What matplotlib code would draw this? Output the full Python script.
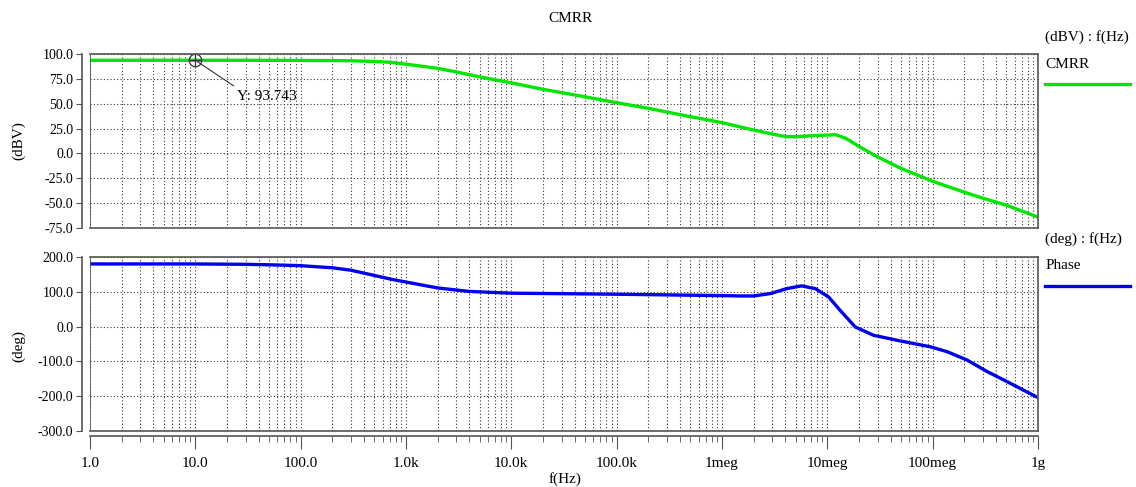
import numpy as np
import matplotlib.pyplot as plt
from matplotlib.ticker import FixedLocator, NullFormatter, NullLocator

plt.rcParams['font.family'] = ['Liberation Serif', 'DejaVu Serif']

# CMRR (dBV) vs frequency
f_cmrr = [1, 10, 100, 200, 300, 500, 700, 1e3, 2e3, 3e3, 5e3, 1e4, 2e4, 5e4, 1e5,
          2e5, 5e5, 1e6, 2e6, 3e6, 4e6, 5e6, 7e6, 1e7, 1.2e7, 1.5e7, 2e7, 3e7,
          5e7, 1e8, 2e8, 3e8, 5e8, 1e9]
cmrr = [93.7, 93.7, 93.6, 93.4, 93.2, 92.5, 91.7, 89.8, 85.6, 82.0, 77.0, 71.0,
        64.5, 57.0, 51.0, 45.4, 37.0, 31.0, 23.5, 19.5, 17.0, 16.8, 17.8, 18.5,
        18.8, 15.2, 7.0, -3.5, -15.0, -28.0, -39.0, -45.0, -52.0, -64.0]

# Phase (deg) vs frequency
f_phase = [1, 10, 30, 60, 100, 200, 300, 500, 700, 1e3, 2e3, 4e3, 1e4, 1e5, 1e6,
           1.5e6, 2e6, 2.9e6, 4.1e6, 5.7e6, 7.7e6, 1.03e7, 1.33e7, 1.84e7,
           2.75e7, 4.9e7, 9.5e7, 1.37e8, 2.12e8, 3.28e8, 5.08e8, 1e9]
phase = [180, 180, 179, 177, 175, 169, 162, 147, 137, 128, 111, 101, 96, 93, 89,
         88, 88, 95, 109, 117, 109, 85, 46, -1, -25, -41, -58, -72, -96, -129,
         -158, -204]

x_ticks = [1, 10, 100, 1e3, 1e4, 1e5, 1e6, 1e7, 1e8, 1e9]
x_labels = ['1.0', '10.0', '100.0', '1.0k', '10.0k', '100.0k', '1meg', '10meg', '100meg', '1g']
cmrr_ticks = [-75, -50, -25, 0, 25, 50, 75, 100]
phase_ticks = [-300, -200, -100, 0, 100, 200]

marker_f = 10
marker_y = 93.743

green = '#00e600'
blue = '#0000ee'
edge = '#555555'
gridc = '#3a3a3a'

fig = plt.figure(figsize=(11.36, 4.87), dpi=100)
L, W = 0.0792, 0.8345
ax1 = fig.add_axes([L, 0.5318, W, 0.3573])
ax2 = fig.add_axes([L, 0.1150, W, 0.3573])
ax3 = fig.add_axes([L, 0.1047, W, 0.0001])

minor = [m * 10 ** d for d in range(0, 9) for m in range(2, 10)]

for ax, yt in ((ax1, cmrr_ticks), (ax2, phase_ticks)):
    ax.set_xscale('log')
    ax.set_xlim(1, 1e9)
    ax.set_ylim(yt[0], yt[-1])
    ax.set_yticks(yt)
    ax.set_yticklabels(['%.1f' % v for v in yt], fontsize=11)
    ax.xaxis.set_major_locator(FixedLocator(x_ticks))
    ax.xaxis.set_minor_locator(FixedLocator(minor))
    ax.xaxis.set_major_formatter(NullFormatter())
    ax.xaxis.set_minor_formatter(NullFormatter())
    ax.tick_params(axis='x', which='both', length=0)
    ax.tick_params(axis='y', direction='out', length=4, color=edge, pad=2)
    ax.grid(True, which='both', axis='x', color=gridc, linestyle=(0, (1, 2)), lw=0.8)
    ax.grid(True, which='major', axis='y', color=gridc, linestyle=(0, (1, 2)), lw=0.8)
    for s in ax.spines.values():
        s.set_color(edge)
        s.set_linewidth(1.2)
    # y axis line sits a little left of the plot box
    ax.spines['left'].set_position(('outward', 6))
    ax.axvline(1, color=edge, lw=1.2, zorder=3)

ax1.plot(f_cmrr, cmrr, color=green, lw=2.4)
ax2.plot(f_phase, phase, color=blue, lw=2.4)

# cursor marker
ax1.plot([marker_f], [marker_y], marker='o', ms=9, mfc='none', mec='#333333', mew=0.9)
ax1.plot([marker_f], [marker_y], marker='+', ms=9, mec='#333333', mew=0.9)
ax1.annotate('Y: 93.743', xy=(marker_f, marker_y), xytext=(25, 57), fontsize=11,
             ha='left', va='center',
             arrowprops=dict(arrowstyle='-', color='#333333', lw=0.8, relpos=(0.05, 1.0)))

# separate x-axis strip
ax3.set_xscale('log')
ax3.set_xlim(1, 1e9)
ax3.set_xticks(x_ticks)
ax3.set_xticklabels(x_labels, fontsize=11)
ax3.xaxis.set_minor_locator(FixedLocator(minor))
ax3.xaxis.set_minor_formatter(NullFormatter())
ax3.yaxis.set_major_locator(NullLocator())
ax3.tick_params(axis='x', which='major', direction='out', length=9, color=edge, pad=6)
ax3.tick_params(axis='x', which='minor', direction='out', length=4, color=edge)
for k in ('left', 'right', 'bottom'):
    ax3.spines[k].set_visible(False)
ax3.spines['top'].set_color(edge)
ax3.spines['top'].set_linewidth(1.2)
ax3.xaxis.set_ticks_position('bottom')
ax3.patch.set_visible(False)
fig.text(0.4975, 0.017, 'f(Hz)', ha='center', va='center', fontsize=11)

# titles and labels
fig.text(0.502, 0.963, 'CMRR', ha='center', va='center', fontsize=11)
fig.text(0.016, 0.712, '(dBV)', ha='center', va='center', rotation=90, fontsize=11)
fig.text(0.016, 0.29, '(deg)', ha='center', va='center', rotation=90, fontsize=11)

# right-side legends
fig.text(0.920, 0.924, '(dBV) : f(Hz)', ha='left', va='center', fontsize=11)
fig.text(0.920, 0.868, 'CMRR', ha='left', va='center', fontsize=11)
fig.add_artist(plt.Line2D([0.920, 0.995], [0.827, 0.827], color=green, lw=2.4))
fig.text(0.920, 0.509, '(deg) : f(Hz)', ha='left', va='center', fontsize=11)
fig.text(0.920, 0.454, 'Phase', ha='left', va='center', fontsize=11)
fig.add_artist(plt.Line2D([0.920, 0.995], [0.413, 0.413], color=blue, lw=2.4))

plt.savefig('out.png', dpi=100)
